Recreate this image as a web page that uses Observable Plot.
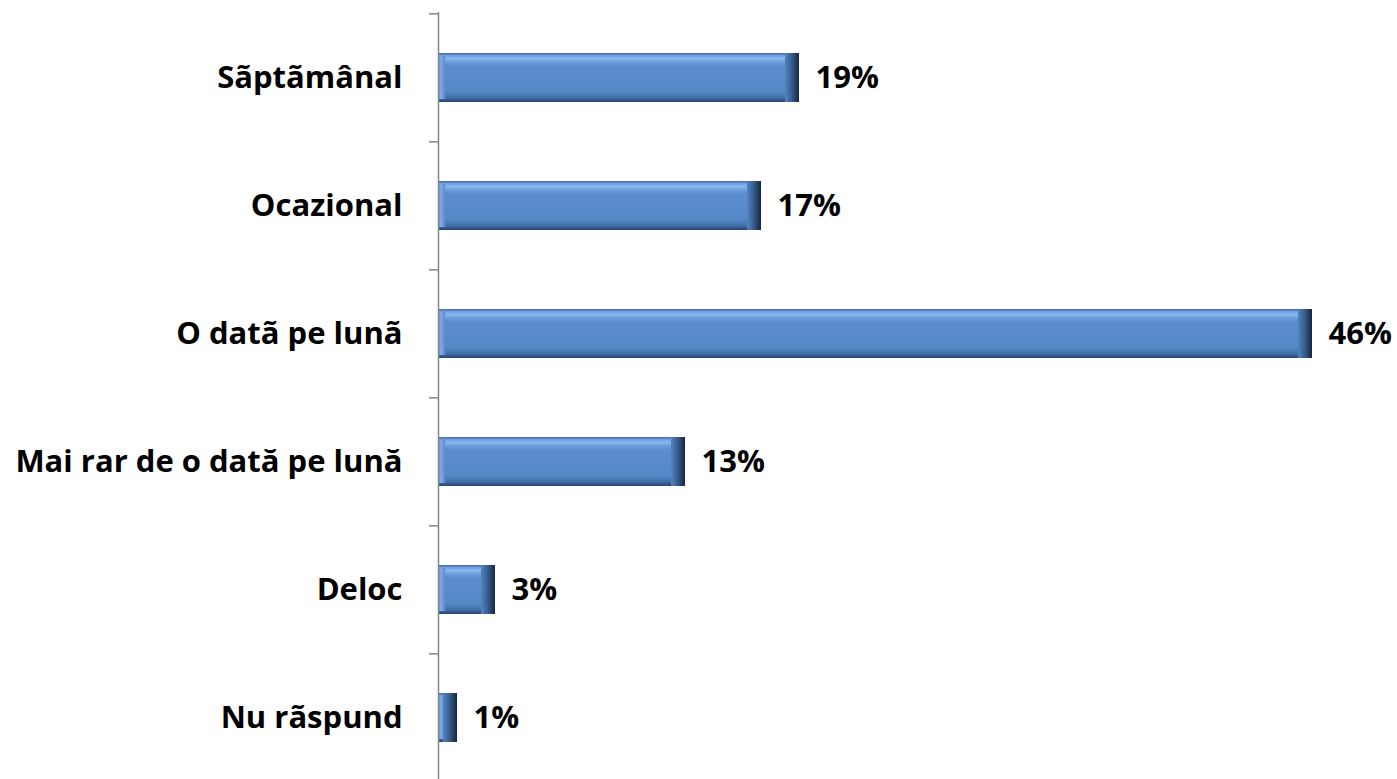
<!DOCTYPE html>
<html>
<head>
<meta charset="utf-8">
<script src="https://cdn.jsdelivr.net/npm/d3@7"></script>
<script src="https://cdn.jsdelivr.net/npm/@observablehq/plot@0.6"></script>
<style>
  html, body { margin: 0; padding: 0; background: #fff; overflow: hidden; }
  #chart svg { display: block; }
</style>
</head>
<body>
<svg width="0" height="0" style="position:absolute">
  <defs>
    <linearGradient id="barGrad" x1="0" y1="0" x2="0" y2="1">
      <stop offset="0" stop-color="#3b67a2"/>
      <stop offset="0.05" stop-color="#6c9edb"/>
      <stop offset="0.11" stop-color="#88b8ef"/>
      <stop offset="0.19" stop-color="#6a9bd8"/>
      <stop offset="0.27" stop-color="#5b8dcf"/>
      <stop offset="0.78" stop-color="#5588c9"/>
      <stop offset="0.86" stop-color="#4a7ab8"/>
      <stop offset="0.94" stop-color="#3b6398"/>
      <stop offset="1" stop-color="#28436b"/>
    </linearGradient>
    <linearGradient id="rightGrad" x1="0" y1="0" x2="1" y2="0">
      <stop offset="0" stop-color="#5284c3"/>
      <stop offset="0.5" stop-color="#365b8a"/>
      <stop offset="1" stop-color="#17263c"/>
    </linearGradient>
    <linearGradient id="leftGrad" x1="0" y1="0" x2="1" y2="0">
      <stop offset="0" stop-color="#5d8fd0"/>
      <stop offset="0.4" stop-color="#7aabe6"/>
      <stop offset="1" stop-color="#5b8dcf"/>
    </linearGradient>
  </defs>
</svg>
<div id="chart"></div>
<script>
const categories = ["Sãptãmânal", "Ocazional", "O datã pe lunã", "Mai rar de o dată pe lună", "Deloc", "Nu rãspund"];
const values = [19, 17, 46, 13, 3, 1];
const labels = ["19%", "17%", "46%", "13%", "3%", "1%"];

const data = categories.map((c, i) => ({cat: c, value: values[i], label: labels[i]}));

const W = 1397, H = 782, MT = 12, MB = 0;
const step = (H - MT - MB) / categories.length;
const font = "'Open Sans', sans-serif";

const chart = Plot.plot({
  width: W,
  height: H,
  marginLeft: 438,
  marginRight: 85,
  marginTop: MT,
  marginBottom: MB,
  style: {fontFamily: font, background: "#fff"},
  x: {domain: [0, 46], axis: null},
  y: {domain: categories, paddingInner: 0.62, paddingOuter: 0.31, axis: null},
  marks: [
    Plot.barX(data, {x1: 0, x2: "value", y: "cat", fill: "url(#barGrad)"}),
    Plot.barX(data, {x1: 0, x2: 0, y: "cat", insetRight: -7, insetTop: 3, insetBottom: 3, fill: "url(#leftGrad)"}),
    Plot.barX(data, {x1: "value", x2: "value", y: "cat", insetLeft: -14, fill: "url(#rightGrad)"}),
    Plot.ruleX([0], {stroke: "#868686", strokeWidth: 1.5}),
    Plot.axisY({anchor: "left", label: null, tickSize: 9, stroke: "#868686", strokeWidth: 1.5, tickFormat: () => "", dy: -step / 2}),
    Plot.axisY({anchor: "left", label: null, tickSize: 0, tickPadding: 36, fontSize: 31, fontWeight: "bold", fill: "#000"}),
    Plot.text(data, {x: "value", y: "cat", text: "label", dx: 16, textAnchor: "start", fontSize: 31, fontWeight: "bold", fill: "#000"})
  ]
});
document.getElementById("chart").appendChild(chart);
</script>
</body>
</html>
